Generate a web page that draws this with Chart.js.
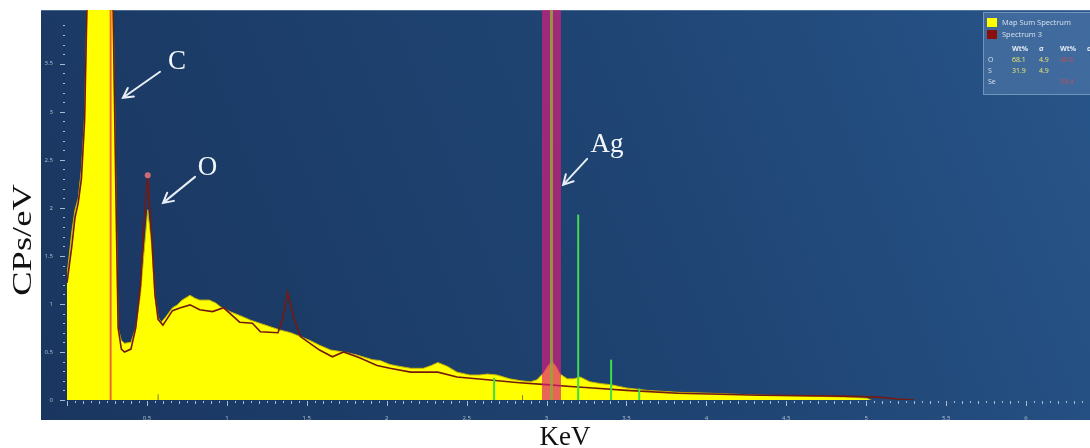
<!DOCTYPE html>
<html>
<head>
<meta charset="utf-8">
<script src="https://cdn.jsdelivr.net/npm/chart.js@4.4.0/dist/chart.umd.min.js"></script>
<style>
  html, body { margin: 0; padding: 0; background: #fff; }
  #wrap { width: 1090px; height: 448px; position: relative; }
</style>
</head>
<body>
<div id="wrap"><canvas id="spectrum"></canvas></div>
<script>
// Map Sum Spectrum (yellow fill) - energy in keV and counts in CPs/eV
var mapSumKeV = [
  0, 0.03, 0.05, 0.07, 0.09, 0.11, 0.13, 0.20, 0.26, 0.28,
  0.31, 0.32, 0.34, 0.36, 0.40, 0.43, 0.46, 0.48, 0.505, 0.53,
  0.55, 0.57, 0.59, 0.62, 0.66, 0.69, 0.72, 0.77, 0.80, 0.83,
  0.89, 0.93, 0.96, 1.02, 1.08, 1.15, 1.24, 1.33, 1.40, 1.46,
  1.52, 1.58, 1.65, 1.73, 1.81, 1.91, 1.96, 2.02, 2.08, 2.15,
  2.23, 2.28, 2.32, 2.38, 2.44, 2.52, 2.58, 2.63, 2.69, 2.77,
  2.84, 2.90, 2.94, 2.98, 3.01, 3.035, 3.06, 3.085, 3.13, 3.17,
  3.21, 3.27, 3.34, 3.40, 3.50, 3.63, 3.82, 4.02, 4.34, 4.65,
  4.86, 5.00, 5.03
];
var mapSumCps = [
  1.30, 1.75, 1.98, 2.10, 2.40, 2.95, 4.50, 12.0, 12.0, 5.00,
  1.80, 0.75, 0.62, 0.59, 0.60, 0.75, 1.10, 1.50, 1.98, 1.60,
  1.10, 0.86, 0.81, 0.87, 0.96, 0.99, 1.04, 1.09, 1.06, 1.04,
  1.04, 1.01, 0.97, 0.92, 0.88, 0.83, 0.78, 0.73, 0.70, 0.66,
  0.62, 0.57, 0.52, 0.50, 0.47, 0.42, 0.41, 0.37, 0.35, 0.33,
  0.33, 0.36, 0.39, 0.35, 0.29, 0.26, 0.26, 0.27, 0.26, 0.22,
  0.20, 0.19, 0.21, 0.28, 0.36, 0.40, 0.35, 0.27, 0.22, 0.22,
  0.24, 0.19, 0.17, 0.16, 0.125, 0.10, 0.08, 0.07, 0.05, 0.04,
  0.03, 0.02, 0
];

// Spectrum 3 (dark red line)
var spec3KeV = [
  0, 0.03, 0.05, 0.07, 0.09, 0.11, 0.13, 0.20, 0.26, 0.28,
  0.31, 0.32, 0.34, 0.36, 0.40, 0.43, 0.46, 0.48, 0.505, 0.53,
  0.55, 0.57, 0.60, 0.66, 0.71, 0.77, 0.83, 0.91, 0.98, 1.04,
  1.08, 1.16, 1.21, 1.32, 1.35, 1.38, 1.42, 1.46, 1.58, 1.66,
  1.73, 1.83, 1.94, 2.02, 2.15, 2.32, 2.44, 2.63, 2.83, 3.00,
  3.15, 3.29, 3.50, 3.82, 4.34, 4.86, 5.07, 5.20, 5.30
];
var spec3Cps = [
  1.22, 1.60, 1.90, 2.05, 2.30, 2.90, 4.50, 12.0, 12.0, 5.00,
  1.70, 0.75, 0.53, 0.50, 0.53, 0.75, 1.20, 1.80, 2.34, 1.70,
  1.10, 0.84, 0.78, 0.93, 0.96, 0.99, 0.94, 0.92, 0.96, 0.87,
  0.81, 0.80, 0.71, 0.70, 0.85, 1.12, 0.85, 0.66, 0.52, 0.45,
  0.50, 0.44, 0.36, 0.33, 0.29, 0.29, 0.24, 0.21, 0.18, 0.16,
  0.14, 0.125, 0.10, 0.07, 0.05, 0.04, 0.03, 0.01, 0
];

// element marker lines
var carbonKeV = 0.273;
var silverBandKeV = 3.031;
var silverLineKeV = [2.672, 3.198, 3.404, 3.58];
var silverLineCps = [0.23, 1.93, 0.42, 0.12];
var smallMarkKeV = [0.57, 2.85];
var smallMarkCps = [0.06, 0.05];
var oPeakKeV = 0.505;

// quant table in the legend box
var legendNames = ['Map Sum Spectrum', 'Spectrum 3'];
var quantElements = ['O', 'S', 'Se'];
var quantMapWt = ['68.1', '31.9', ''];
var quantMapSigma = ['4.9', '4.9', ''];
var quantSpec3Wt = ['40.6', '', '59.4'];

var X_MAX = 6.4, Y_MAX = 4.06;

function pts(xs, ys) {
  return xs.map(function (x, i) { return { x: x, y: ys[i] }; });
}
function vline(x, h) {
  return [{ x: x, y: 0 }, { x: x, y: h }];
}
function onStep(v, step) {
  var r = v / step;
  return Math.abs(r - Math.round(r)) < 1e-6;
}

var datasets = [
  {
    label: legendNames[0],
    data: pts(mapSumKeV, mapSumCps),
    borderColor: '#c9b400',
    borderWidth: 1,
    backgroundColor: '#ffff00',
    fill: 'origin',
    pointRadius: 0,
    order: 6
  },
  {
    label: legendNames[1],
    data: pts(spec3KeV, spec3Cps),
    borderColor: '#751a10',
    borderWidth: 1.6,
    fill: false,
    pointRadius: function (c) { return c.raw && c.raw.x === oPeakKeV ? 3 : 0; },
    pointBackgroundColor: '#cf6a78',
    pointBorderWidth: 0,
    order: 5
  },
  {
    label: 'C',
    data: vline(carbonKeV, Y_MAX),
    borderColor: '#ee6a3c',
    borderWidth: 2,
    pointRadius: 0,
    order: 4
  },
  {
    label: 'Ag band',
    data: vline(silverBandKeV, Y_MAX),
    borderColor: 'rgba(220,30,125,0.68)',
    borderWidth: 19,
    borderCapStyle: 'butt',
    pointRadius: 0,
    order: 3
  },
  {
    label: 'Ag line',
    data: vline(silverBandKeV, Y_MAX),
    borderColor: 'rgba(150,165,60,0.85)',
    borderWidth: 3,
    pointRadius: 0,
    order: 2
  }
];
silverLineKeV.forEach(function (k, i) {
  datasets.push({
    label: 'Ag ' + i,
    data: vline(k, silverLineCps[i]),
    borderColor: '#3ddc4c',
    borderWidth: 2,
    pointRadius: 0,
    order: 1
  });
});
smallMarkKeV.forEach(function (k, i) {
  datasets.push({
    label: 'mark ' + i,
    data: vline(k, smallMarkCps[i]),
    borderColor: '#7b7a2a',
    borderWidth: 1,
    pointRadius: 0,
    order: 1
  });
});

// callouts: text centre and arrow in data units
var callouts = [
  { text: 'C',  at: [0.688, 3.52], from: [0.582, 3.417], to: [0.350, 3.146] },
  { text: 'O',  at: [0.879, 2.42], from: [0.801, 2.323], to: [0.601, 2.052] },
  { text: 'Ag', at: [3.379, 2.66], from: [3.254, 2.51],  to: [3.104, 2.24] }
];

var panelPlugin = {
  id: 'panel',
  beforeDraw: function (chart) {
    var c = chart.ctx;
    c.save();
    c.fillStyle = '#ffffff';
    c.fillRect(0, 0, chart.width, chart.height);
    var g = c.createLinearGradient(41, 420, chart.width, 10);
    g.addColorStop(0, '#1a3660');
    g.addColorStop(0.6, '#1f4574');
    g.addColorStop(1, '#28558a');
    c.fillStyle = g;
    c.fillRect(41, 10, chart.width - 41, 410);
    c.fillStyle = 'rgba(120,150,190,0.5)';
    c.fillRect(41, 10, chart.width - 41, 1);
    c.restore();
  },
  afterDatasetsDraw: function (chart) {
    var c = chart.ctx, xs = chart.scales.x, ys = chart.scales.y, a = chart.chartArea;
    c.save();
    c.strokeStyle = '#a9bcd2';
    c.lineWidth = 1;
    xs.ticks.forEach(function (t) {
      var px = Math.round(xs.getPixelForValue(t.value)) + 0.5;
      var major = onStep(t.value, 0.5), mid = onStep(t.value, 0.1);
      c.beginPath();
      c.moveTo(px, a.bottom + 1);
      c.lineTo(px, a.bottom + (major ? 6 : (mid ? 4 : 3)));
      c.stroke();
    });
    ys.ticks.forEach(function (t) {
      if (t.value > Y_MAX - 0.01) return;
      var py = Math.round(ys.getPixelForValue(t.value)) + 0.5;
      var major = onStep(t.value, 0.5);
      c.beginPath();
      c.moveTo(a.left - (major ? 7 : 4), py);
      c.lineTo(a.left - 2, py);
      c.stroke();
    });
    c.restore();
  }
};

var overlayPlugin = {
  id: 'overlay',
  afterDraw: function (chart) {
    var c = chart.ctx, xs = chart.scales.x, ys = chart.scales.y;
    c.save();
    // callouts
    callouts.forEach(function (co) {
      var tx = xs.getPixelForValue(co.at[0]), ty = ys.getPixelForValue(co.at[1]);
      c.fillStyle = '#f4f7fb';
      c.font = '27px "Liberation Serif", "DejaVu Serif", serif';
      c.textAlign = 'center';
      c.textBaseline = 'middle';
      c.fillText(co.text, tx, ty);
      var x1 = xs.getPixelForValue(co.from[0]), y1 = ys.getPixelForValue(co.from[1]);
      var x2 = xs.getPixelForValue(co.to[0]), y2 = ys.getPixelForValue(co.to[1]);
      var ang = Math.atan2(y2 - y1, x2 - x1), hl = 11;
      c.strokeStyle = '#e8eef6';
      c.lineWidth = 2;
      c.lineCap = 'round';
      c.beginPath();
      c.moveTo(x1, y1);
      c.lineTo(x2, y2);
      c.moveTo(x2 - hl * Math.cos(ang - 0.5), y2 - hl * Math.sin(ang - 0.5));
      c.lineTo(x2, y2);
      c.lineTo(x2 - hl * Math.cos(ang + 0.5), y2 - hl * Math.sin(ang + 0.5));
      c.stroke();
    });

    // legend box
    var bx = 983, by = 12;
    c.fillStyle = 'rgba(85,125,175,0.55)';
    c.fillRect(bx, by, chart.width - bx, 83);
    c.strokeStyle = 'rgba(160,190,220,0.5)';
    c.lineWidth = 1;
    c.strokeRect(bx + 0.5, by + 0.5, chart.width - bx, 82);
    c.font = '7.5px "Open Sans", sans-serif';
    c.textAlign = 'left';
    c.textBaseline = 'middle';
    var swatch = ['#ffff00', '#8a1010'];
    legendNames.forEach(function (n, i) {
      c.fillStyle = swatch[i];
      c.fillRect(bx + 4, by + 6 + i * 12, 10, 9);
      c.fillStyle = '#d6e2ee';
      c.fillText(n, bx + 19, by + 11 + i * 12);
    });
    c.font = 'bold 7px "Open Sans", sans-serif';
    c.fillStyle = '#e4ecf4';
    c.fillText('Wt%', bx + 29, by + 37);
    c.fillText('\u03c3', bx + 56, by + 37);
    c.fillText('Wt%', bx + 77, by + 37);
    c.fillText('\u03c3', bx + 104, by + 37);
    c.font = '7px "Open Sans", sans-serif';
    quantElements.forEach(function (el, i) {
      var yy = by + 48 + i * 11;
      c.fillStyle = '#d6e2ee';
      c.fillText(el, bx + 5, yy);
      c.fillStyle = '#e8e870';
      c.fillText(quantMapWt[i], bx + 29, yy);
      c.fillText(quantMapSigma[i], bx + 56, yy);
      c.fillStyle = '#c0505a';
      c.fillText(quantSpec3Wt[i], bx + 77, yy);
    });

    // axis titles on the white page
    c.fillStyle = '#111111';
    c.font = '27px "Liberation Serif", "DejaVu Serif", serif';
    c.textAlign = 'center';
    c.textBaseline = 'alphabetic';
    c.fillText('KeV', 565, 445);
    c.save();
    c.translate(31, 240);
    c.rotate(-Math.PI / 2);
    c.scale(1.35, 1);
    c.fillText('CPs/eV', 0, 0);
    c.restore();
    c.restore();
  }
};

new Chart(document.getElementById('spectrum'), {
  type: 'line',
  data: { datasets: datasets },
  options: {
    responsive: true,
    maintainAspectRatio: false,
    animation: false,
    layout: { padding: { left: 41, top: 10, right: 0, bottom: 28 } },
    plugins: { legend: { display: false }, tooltip: { enabled: false } },
    elements: { line: { tension: 0 } },
    scales: {
      x: {
        type: 'linear',
        min: 0,
        max: X_MAX,
        afterFit: function (s) {
          s.height = 20;
          s.paddingLeft = 0;
          s.paddingRight = 0;
        },
        grid: { display: false },
        border: { display: false },
        ticks: {
          stepSize: 0.05,
          maxTicksLimit: 500,
          autoSkip: false,
          maxRotation: 0,
          padding: 7,
          color: '#b3c1d2',
          font: { family: 'Open Sans', size: 6 },
          callback: function (v) {
            return v > 0.01 && onStep(v, 0.5) ? String(Math.round(v * 10) / 10) : '';
          }
        }
      },
      y: {
        min: 0,
        max: Y_MAX,
        afterFit: function (s) {
          s.width = 26;
          s.paddingTop = 0;
          s.paddingBottom = 0;
        },
        grid: { display: false },
        border: { display: false },
        ticks: {
          stepSize: 0.1,
          maxTicksLimit: 500,
          autoSkip: false,
          padding: 6,
          color: '#b3c1d2',
          font: { family: 'Open Sans', size: 6 },
          callback: function (v) {
            return v < 3.6 && onStep(v, 0.5) ? String(Math.round(v * 10) / 10) : '';
          }
        }
      }
    }
  },
  plugins: [panelPlugin, overlayPlugin]
});
</script>
</body>
</html>
